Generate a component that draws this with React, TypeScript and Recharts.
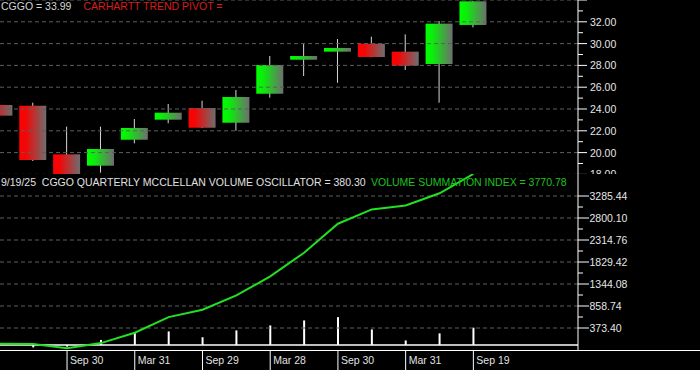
import { Bar, ComposedChart, Line, ReferenceLine, XAxis, YAxis } from 'recharts'

// quarterly candles, index 0 is partly off the left edge
const candleIndex = [0, 1, 2, 3, 4, 5, 6, 7, 8, 9, 10, 11, 12, 13, 14]
const opens = [24.37, 24.3, 19.84, 18.8, 21.18, 23.02, 24.09, 22.74, 25.4, 28.52, 29.26, 29.99, 29.26, 28.13, 31.71]
const highs = [24.6, 24.58, 22.38, 22.38, 23.08, 24.46, 24.76, 25.74, 28.86, 29.96, 30.42, 30.63, 30.85, 32.07, 33.9]
const lows = [21.86, 19.23, 17.8, 18.16, 20.85, 22.69, 22.25, 22.01, 25.04, 27.03, 26.41, 28.75, 27.58, 24.58, 31.49]
const closes = [23.39, 19.32, 17.95, 20.33, 22.26, 23.66, 22.28, 25.1, 28.04, 28.86, 29.6, 28.77, 27.97, 31.83, 33.88]

const oscillator = [0, -55, -40, 110, 275, 298, 170, 320, 430, 540, 613, 342, 99, 255, 380.3]
const summation = [26, 18, -71, 40, 269, 613, 777, 1092, 1511, 2034, 2674, 2989, 3077, 3345, 3770.78]

const dateTicks = [2, 4, 6, 8, 10, 12, 14]
const dateLabels = ['Sep 30', 'Mar 31', 'Sep 29', 'Mar 28', 'Sep 30', 'Mar 31', 'Sep 19']

const priceMajor = [18, 20, 22, 24, 26, 28, 30, 32, 34]
const priceMinor = [19, 21, 23, 25, 27, 29, 31, 33]
const volumeMajor = [373.4, 858.74, 1344.08, 1829.42, 2314.76, 2800.1, 3285.44]

const FONT = "'Liberation Sans', Arial, sans-serif"
const X_DOMAIN: [number, number] = [0.02, 17.09]

const candles = candleIndex.map((i, k) => ({
  i,
  open: opens[k],
  high: highs[k],
  low: lows[k],
  close: closes[k],
  range: [lows[k], highs[k]],
}))

const volumeRows = candleIndex.map((i, k) => ({ i, osc: oscillator[k], vsi: summation[k] }))

const volumeMinor = volumeMajor.slice(0, -1).map((v, k) => (v + volumeMajor[k + 1]) / 2)

function Candle(props: any) {
  const { x, y, width, height, payload } = props
  if (!payload || !height) return null
  const { open, close, high, low } = payload
  const perUnit = height / (high - low)
  const toY = (v: number) => y + (high - v) * perUnit
  const top = toY(Math.max(open, close))
  const bottom = toY(Math.min(open, close))
  const cx = x + width / 2
  const up = close >= open
  return (
    <g>
      <line x1={cx} x2={cx} y1={y} y2={y + height} stroke="#d6d6d6" strokeWidth={1} />
      <rect
        x={x}
        y={top}
        width={width}
        height={Math.max(bottom - top, 1)}
        fill={up ? 'url(#candleUp)' : 'url(#candleDown)'}
      />
    </g>
  )
}

function PriceTick({ x, y, payload }: any) {
  const v = payload.value
  const major = priceMajor.includes(v)
  return (
    <g>
      <line x1={x} x2={x + (major ? 9 : 5)} y1={y} y2={y} stroke="#ffffff" />
      {major && v < 34 && (
        <text x={x + 12} y={y} dy={4} fill="#e6e6e6" fontSize={10.5} fontFamily={FONT}>
          {v.toFixed(2)}
        </text>
      )}
    </g>
  )
}

function VolumeTick({ x, y, payload }: any) {
  const v = payload.value
  const major = volumeMajor.includes(v)
  return (
    <g>
      <line x1={x} x2={x + (major ? 11 : 5)} y1={y} y2={y} stroke="#ffffff" />
      {major && (
        <text x={x + 11.5} y={y} dy={4} fill="#e6e6e6" fontSize={10.5} fontFamily={FONT}>
          {v.toFixed(2)}
        </text>
      )}
    </g>
  )
}

function DateTick({ x, y, payload }: any) {
  const k = dateTicks.indexOf(payload.value)
  return (
    <g>
      <line x1={x} x2={x} y1={y} y2={y + 20} stroke="#ffffff" />
      <text x={x + 3} y={y + 13.5} fill="#e0e0e0" fontSize={10.5} fontFamily={FONT}>
        {dateLabels[k]}
      </text>
    </g>
  )
}

const grid = { stroke: '#5e5e5e', strokeDasharray: '4 3' }

export default function App() {
  return (
    <div
      style={{
        position: 'fixed',
        left: 0,
        top: 0,
        width: 700,
        height: 370,
        background: '#000',
        overflow: 'hidden',
        fontFamily: FONT,
      }}
    >
      <div style={{ position: 'absolute', left: 0, top: 0 }}>
        <ComposedChart width={700} height={176} data={candles} margin={{ top: 0, right: 0, left: 0, bottom: 0 }}>
          <defs>
            <linearGradient id="candleUp" x1="0" y1="0" x2="1" y2="0">
              <stop offset="0%" stopColor="#00ff00" />
              <stop offset="25%" stopColor="#0aee0a" />
              <stop offset="100%" stopColor="#6e6e6e" />
            </linearGradient>
            <linearGradient id="candleDown" x1="0" y1="0" x2="1" y2="0">
              <stop offset="0%" stopColor="#ff0000" />
              <stop offset="25%" stopColor="#f00808" />
              <stop offset="100%" stopColor="#6e6e6e" />
            </linearGradient>
          </defs>
          <XAxis dataKey="i" type="number" domain={X_DOMAIN} allowDataOverflow hide />
          <YAxis
            orientation="right"
            width={122}
            domain={[17.853, 34]}
            allowDataOverflow
            ticks={[...priceMajor, ...priceMinor]}
            interval={0}
            tick={<PriceTick />}
            tickLine={false}
            tickSize={0}
            tickMargin={0}
            axisLine={{ stroke: '#ffffff' }}
          />
          {priceMajor.map((v) => (
            <ReferenceLine key={v} y={v} {...grid} />
          ))}
          <Bar dataKey="range" barSize={27} shape={<Candle />} isAnimationActive={false} />
        </ComposedChart>
      </div>

      <div style={{ position: 'absolute', left: 0, top: 174, background: '#000' }}>
        <ComposedChart width={700} height={196} data={volumeRows} margin={{ top: 0, right: 0, left: 0, bottom: 0 }}>
          <XAxis
            dataKey="i"
            type="number"
            domain={X_DOMAIN}
            allowDataOverflow
            ticks={dateTicks}
            interval={0}
            height={20}
            tick={<DateTick />}
            tickLine={false}
            tickSize={0}
            tickMargin={0}
            axisLine={false}
          />
          <YAxis
            orientation="right"
            width={122}
            domain={[-111.94, 3770.78]}
            allowDataOverflow
            ticks={[...volumeMajor, ...volumeMinor]}
            interval={0}
            tick={<VolumeTick />}
            tickLine={false}
            tickSize={0}
            tickMargin={0}
            axisLine={{ stroke: '#ffffff' }}
          />
          {volumeMajor.map((v) => (
            <ReferenceLine key={v} y={v} {...grid} />
          ))}
          <ReferenceLine y={0} stroke="#ffffff" strokeWidth={1.5} />
          <Bar dataKey="osc" barSize={2} fill="#ffffff" isAnimationActive={false} />
          <Line
            dataKey="vsi"
            type="linear"
            stroke="#22e022"
            strokeWidth={2}
            dot={false}
            isAnimationActive={false}
          />
        </ComposedChart>
      </div>

      <div style={{ position: 'absolute', left: 0, top: 350, width: 700, height: 1, background: '#ffffff' }} />

      <div style={{ position: 'absolute', left: 1, top: 0, fontSize: 10.5, lineHeight: '12px', color: '#d4d4d4', whiteSpace: 'pre' }}>
        CGGO = 33.99
      </div>
      <div style={{ position: 'absolute', left: 83.5, top: 0, fontSize: 10.5, lineHeight: '12px', color: '#d81c1c', whiteSpace: 'pre' }}>
        CARHARTT TREND PIVOT =
      </div>
      <div style={{ position: 'absolute', left: 1, top: 175.5, fontSize: 10.5, lineHeight: '12px', color: '#e0e0e0', whiteSpace: 'pre' }}>
        {'9/19/25  CGGO QUARTERLY MCCLELLAN VOLUME OSCILLATOR = 380.30'}
      </div>
      <div style={{ position: 'absolute', left: 371, top: 175.5, fontSize: 10.5, lineHeight: '12px', color: '#1fc01f', whiteSpace: 'pre' }}>
        VOLUME SUMMATION INDEX = 3770.78
      </div>
    </div>
  )
}
